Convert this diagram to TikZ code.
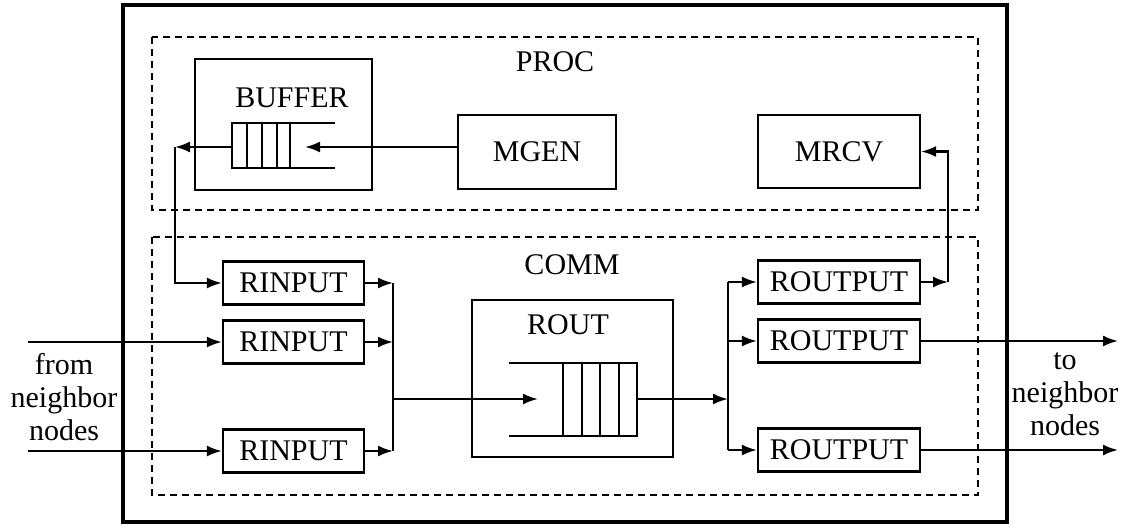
\documentclass[tikz,border=0pt]{standalone}
\usepackage{fontspec}
\setmainfont{Liberation Serif}
\usetikzlibrary{arrows.meta,positioning,calc}

\tikzset{
  blk/.style={draw, line width=2.2pt, minimum height=43pt, inner sep=0pt,
    font=\fontsize{30}{33}\selectfont},
  frame/.style={draw, line width=2.6pt, dash pattern=on 7pt off 5pt},
  wire/.style={line width=2.2pt},
  arr/.style={wire, -{Latex[length=15pt,width=11pt]}},
  lbl/.style={font=\fontsize{30}{33}\selectfont, inner sep=0pt, align=center},
}

\begin{document}
\begin{tikzpicture}[x=1pt, y=-1pt]
    \useasboundingbox (0,0) rectangle (1134,528);
    % node frame with PROC and COMM parts
    \draw[line width=3.6pt] (123,5) rectangle (1007,522);
    \draw[frame] (152,37) rectangle (978,210);
    \draw[frame] (152,237) rectangle (978,495);
    \node[lbl] (proc) at (555,62) {PROC};
    \node[lbl] (comm) at (572,265) {COMM};

    % PROC part
    \node[blk, minimum width=177pt, minimum height=131pt] (buf) at (283.5,124.5) {};
    \node[lbl] (buflbl) at (292,98) {BUFFER};
    \node[blk, minimum width=158pt, minimum height=74pt] (mgen) at (537,152) {MGEN};
    \node[blk, minimum width=162pt, minimum height=73pt] (mrcv) at (839,151.5) {MRCV};
    \draw[wire] (335,123) -- (232,123) -- (232,168) -- (335,168);
    \foreach \x in {247,262,277,290} \draw[wire] (\x,123) -- (\x,168);
    \coordinate (bufout) at (232,147);
    \coordinate (bufin) at (305,147);
    \coordinate (ltop) at (175,147);
    \draw[arr] (mgen.west |- bufin) -- (bufin);
    \draw[arr] (bufout) -- (ltop);

    % COMM part: inputs
    \node[blk, minimum width=141pt] (ri1) at (293.5,283) {RINPUT};
    \node[blk, minimum width=141pt] (ri2) at (293.5,342) {RINPUT};
    \node[blk, minimum width=141pt] (ri3) at (293.5,451) {RINPUT};
    \coordinate (busl) at (393,399);
    \foreach \n in {1,2,3} \draw[arr] (ri\n.east) -- (ri\n.east -| busl);
    \draw[wire] (ri1.east -| busl) -- (ri3.east -| busl);
    \draw[arr] (ltop) |- (ri1.west);

    % router with its queue
    \node[blk, minimum width=201pt, minimum height=157pt] (rt) at (572.5,378.5) {};
    \node[lbl] (rtlbl) at (568,325) {ROUT};
    \draw[wire] (509,363) -- (637,363) -- (637,436) -- (509,436);
    \foreach \x in {563,582,600,619} \draw[wire] (\x,363) -- (\x,436);
    \coordinate (qin) at (538,399);
    \coordinate (qout) at (637,399);
    \coordinate (busr) at (728,399);
    \draw[arr] (busl) -- (qin);
    \draw[arr] (qout) -- (busr);

    % outputs
    \node[blk, minimum width=162pt] (ro1) at (839,282) {ROUTPUT};
    \node[blk, minimum width=162pt] (ro2) at (839,341) {ROUTPUT};
    \node[blk, minimum width=162pt] (ro3) at (839,450) {ROUTPUT};
    \draw[wire] (ro1.west -| busr) -- (ro3.west -| busr);
    \foreach \n in {1,2,3} \draw[arr] (ro\n.west -| busr) -- (ro\n.west);
    \coordinate (rtop) at (948,282);
    \draw[arr] (ro1.east) -- (rtop);
    \draw[arr] (rtop) |- (mrcv.east);

    % neighbor links
    \coordinate (in2) at (28,342);
    \coordinate (in3) at (28,451);
    \coordinate (out2) at (1118,341);
    \coordinate (out3) at (1118,450);
    \draw[arr] (in2) -- (ri2.west);
    \draw[arr] (in3) -- (ri3.west);
    \draw[arr] (ro2.east) -- (out2);
    \draw[arr] (ro3.east) -- (out3);
    \node[lbl] (from) at (64,397) {from\\neighbor\\nodes};
    \node[lbl] (to) at (1065,394) {to\\neighbor\\nodes};
\end{tikzpicture}
\end{document}
